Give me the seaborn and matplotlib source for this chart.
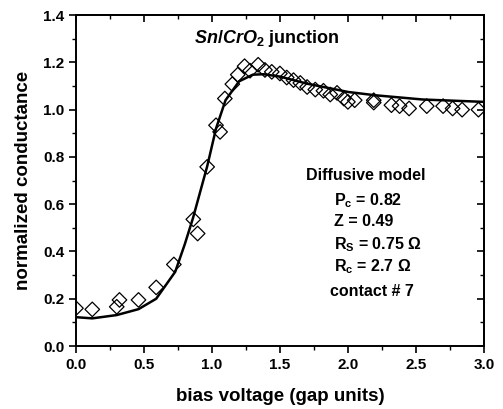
import matplotlib
matplotlib.use("Agg")
import matplotlib.pyplot as plt
import seaborn as sns
import pandas as pd
from matplotlib.ticker import MultipleLocator

# measured data (diamonds)
data_x = [0.0, 0.12, 0.30, 0.32, 0.46, 0.59, 0.72, 0.863, 0.895, 0.965, 1.03, 1.06,
          1.095, 1.15, 1.19, 1.24, 1.28, 1.34, 1.39, 1.44, 1.50, 1.55, 1.60, 1.65,
          1.70, 1.76, 1.82, 1.87, 1.92, 1.97, 2.00, 2.05, 2.19, 2.19, 2.32, 2.38,
          2.45, 2.58, 2.70, 2.77, 2.84, 2.96]
data_y = [0.16, 0.155, 0.166, 0.195, 0.195, 0.248, 0.345, 0.536, 0.476, 0.758, 0.934, 0.906,
          1.047, 1.108, 1.148, 1.184, 1.165, 1.190, 1.168, 1.160, 1.153, 1.136, 1.125, 1.113,
          1.096, 1.085, 1.080, 1.064, 1.071, 1.047, 1.033, 1.040, 1.040, 1.030, 1.019, 1.015,
          1.005, 1.015, 1.015, 1.005, 1.000, 1.000]

# diffusive model fit (solid line)
fit_x = [0.0, 0.12, 0.30, 0.46, 0.59, 0.73, 0.80, 0.86, 0.965, 1.03, 1.10, 1.20,
         1.30, 1.38, 1.50, 1.70, 2.00, 2.20, 2.55, 3.00]
fit_y = [0.122, 0.117, 0.131, 0.156, 0.200, 0.314, 0.430, 0.540, 0.760, 0.920, 1.040, 1.120,
         1.148, 1.150, 1.140, 1.110, 1.075, 1.061, 1.043, 1.033]

x_ticks = [0.0, 0.5, 1.0, 1.5, 2.0, 2.5, 3.0]
y_ticks = [0.0, 0.2, 0.4, 0.6, 0.8, 1.0, 1.2, 1.4]

sns.set_theme(style="ticks")
plt.rcParams["font.family"] = ["Liberation Sans", "DejaVu Sans"]
plt.rcParams["font.weight"] = "bold"
plt.rcParams["mathtext.fontset"] = "custom"
plt.rcParams["mathtext.rm"] = "Liberation Sans:bold"
plt.rcParams["mathtext.it"] = "Liberation Sans:bold:italic"
plt.rcParams["mathtext.bf"] = "Liberation Sans:bold"

fig = plt.figure(figsize=(5.03, 4.09), dpi=100)
ax = fig.add_axes([0.151, 0.154, 0.811, 0.809])

df_data = pd.DataFrame({"x": data_x, "y": data_y})
df_fit = pd.DataFrame({"x": fit_x, "y": fit_y})

sns.lineplot(data=df_fit, x="x", y="y", ax=ax, color="black", linewidth=1.8,
             sort=False, estimator=None)
sns.scatterplot(data=df_data, x="x", y="y", ax=ax, marker="D", s=55,
                facecolor="none", edgecolor="black", linewidth=0.9, zorder=3)

ax.set_xlim(0, 3.0)
ax.set_ylim(0, 1.4)
ax.set_xticks(x_ticks)
ax.set_yticks(y_ticks)
ax.set_xticklabels([f"{v:.1f}" for v in x_ticks])
ax.set_yticklabels([f"{v:.1f}" for v in y_ticks])
ax.xaxis.set_minor_locator(MultipleLocator(0.25))
ax.yaxis.set_minor_locator(MultipleLocator(0.1))

for s in ax.spines.values():
    s.set_linewidth(1.4)
    s.set_color("black")

ax.tick_params(axis="both", which="major", labelsize=11, width=1.2, length=5,
               color="black", labelcolor="black")
ax.tick_params(axis="both", which="minor", width=1.0, length=3, color="black")
ax.tick_params(axis="x", which="both", direction="out", top=False)
ax.tick_params(axis="y", which="both", direction="out", right=False)

# mirrored inward ticks on top/right
sec_x = ax.secondary_xaxis("top")
sec_x.set_xticks(x_ticks)
sec_x.xaxis.set_minor_locator(MultipleLocator(0.25))
sec_x.tick_params(which="both", direction="in", labeltop=False, color="black")
sec_x.tick_params(which="major", length=5, width=1.2)
sec_x.tick_params(which="minor", length=3, width=1.0)
sec_x.spines["top"].set_linewidth(1.4)
sec_y = ax.secondary_yaxis("right")
sec_y.set_yticks(y_ticks)
sec_y.yaxis.set_minor_locator(MultipleLocator(0.1))
sec_y.tick_params(which="both", direction="in", labelright=False, color="black")
sec_y.tick_params(which="major", length=5, width=1.2)
sec_y.tick_params(which="minor", length=3, width=1.0)
sec_y.spines["right"].set_linewidth(1.4)

ax.set_xlabel("bias voltage (gap units)", fontsize=13.5, fontweight="bold", labelpad=12,
              color="black")
ax.set_ylabel("normalized conductance", fontsize=13.5, fontweight="bold", labelpad=8,
              color="black")

ax.text(1.4, 1.30, r"$Sn/CrO_2$ junction", fontsize=13, fontweight="bold",
        ha="center", va="center", color="black")

ax.text(2.13, 0.72, "Diffusive model", fontsize=11.5, fontweight="bold",
        ha="center", va="center", color="black")
lines = [r"$\mathrm{P_c}$ = 0.82", "Z = 0.49", r"$\mathrm{R_S}$ = 0.75 Ω",
         r"$\mathrm{R_c}$ = 2.7 Ω"]
ys = [0.615, 0.525, 0.43, 0.335]
for t, yv in zip(lines, ys):
    ax.text(1.90, yv, t, fontsize=11.5, fontweight="bold", ha="left", va="center",
            color="black")
ax.text(1.87, 0.23, "contact # 7", fontsize=11.5, fontweight="bold", ha="left",
        va="center", color="black")

fig.savefig("out.png", dpi=100)
